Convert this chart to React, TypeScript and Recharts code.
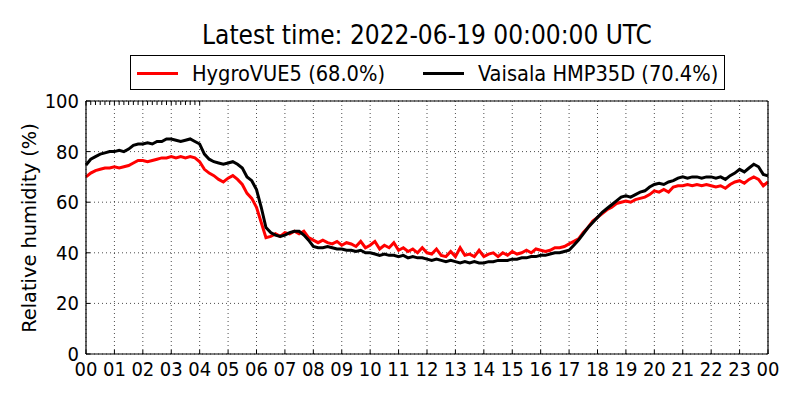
import { CartesianGrid, Line, LineChart, XAxis, YAxis } from "recharts";

// 10-minute readings, 00:00 -> 24:00 (145 points)
const hygroVue = [
  70, 71.5, 72.5, 73, 73.5, 73.5,
  74, 73.5, 74, 74.5, 75.5, 76.5,
  76.5, 76, 76.5, 77, 77.5, 77.5,
  78, 77.5, 78, 77.5, 78, 77.5,
  76, 73, 71.5, 70.5, 69, 68,
  69.5, 70.5, 69, 67, 63.5, 61.5,
  58, 52, 46, 46.5, 47.5, 46.5,
  48, 47.5, 48.5, 47.5, 48.5, 46,
  45, 44, 45, 44, 43.5, 44.5,
  43, 44, 43.5, 42.5, 44.5, 42,
  43, 44.5, 41.5, 43, 42, 44,
  41, 42, 40.5, 41.5, 40, 42,
  40, 39.5, 41.5, 39, 38.5, 40.5,
  38.5, 42, 39, 39.5, 38.5, 41,
  38.5, 39.5, 40, 38.5, 40, 39,
  40.5, 39.5, 40, 41, 40, 41.5,
  41, 40.5, 41, 42, 42, 42.5,
  43.5, 44.5, 45.5, 48, 50, 52.5,
  54, 55.5, 57, 58, 59.5, 60,
  60.5, 60, 61, 61.5, 62, 63,
  64.5, 64, 65, 64, 66, 66.5,
  66.5, 67, 66.5, 67, 66.5, 67,
  66.5, 66, 66.5, 65.5, 67, 68,
  68.5, 67.5, 69, 70, 69, 66.5,
  68,
];

const vaisala = [
  74.7, 77, 78, 79, 79.5, 80,
  80, 80.5, 80, 81, 82.5, 83,
  83, 83.5, 83, 84, 84, 85,
  85, 84.5, 84, 84.5, 85, 84,
  83, 79, 77, 76, 75.5, 75,
  75.5, 76, 75, 73.5, 70, 68.5,
  65, 58, 50, 48, 47, 46.5,
  47, 48, 48.5, 48.5, 47, 45,
  42.5, 42, 42, 42.5, 42, 41.5,
  41.5, 41, 41, 40.5, 41, 40,
  40, 39.5, 39, 39.5, 39, 39,
  38.5, 39, 38, 38.5, 38, 38,
  37.5, 37, 37.5, 37, 36.5, 37,
  36.5, 36, 36.5, 36, 36.5, 36,
  36, 36.5, 36.5, 37, 37, 37,
  37.5, 37.5, 38, 38, 38.5, 38.5,
  39, 39, 39.5, 40, 40, 40.5,
  41, 43, 45, 47.5, 50, 52,
  54, 56, 57.5, 59, 60.5, 62,
  62.5, 62, 63, 64, 64.5, 66,
  67, 67.5, 67, 68, 68.5, 69.5,
  70, 69.5, 70, 70, 69.5, 70,
  70, 69.5, 70, 69, 70.5, 71.5,
  73, 72, 73.5, 75, 74, 71,
  70.4,
];

const hourTicks = [0, 1, 2, 3, 4, 5, 6, 7, 8, 9, 10, 11, 12, 13, 14, 15, 16, 17, 18, 19, 20, 21, 22, 23, 24];
const rhTicks = [0, 20, 40, 60, 80, 100];
const hourLabels = ["00", "01", "02", "03", "04", "05", "06", "07", "08", "09", "10", "11", "12", "13", "14", "15", "16", "17", "18", "19", "20", "21", "22", "23", "00"];

const title = "Latest time: 2022-06-19 00:00:00 UTC";
const hygroName = "HygroVUE5 (68.0%)";
const vaisalaName = "Vaisala HMP35D (70.4%)";

const data = hygroVue.map((h, i) => ({ t: i / 6, hygro: h, vaisala: vaisala[i] }));

const FONT = "'DejaVu Sans Condensed', 'DejaVu Sans', sans-serif";
const TICK_LEN = 4;
const X_MARGIN = 22;
const Y_MARGIN = 7;

function BottomTick({ x, y, payload }: any) {
  const axisY = y - X_MARGIN;
  return (
    <g>
      <line x1={x} x2={x} y1={axisY} y2={axisY - TICK_LEN} stroke="#000" />
      <text x={x} y={y} textAnchor="middle" fontFamily={FONT} fontSize={20} fill="#000">
        {hourLabels[payload.index ?? hourTicks.indexOf(payload.value)]}
      </text>
    </g>
  );
}

function TopTick({ x, y }: any) {
  return <line x1={x} x2={x} y1={y} y2={y + TICK_LEN} stroke="#000" />;
}

function LeftTick({ x, y, payload }: any) {
  const axisX = x + Y_MARGIN;
  return (
    <g>
      <line x1={axisX} x2={axisX + TICK_LEN} y1={y} y2={y} stroke="#000" />
      <text x={x} y={y + 7} textAnchor="end" fontFamily={FONT} fontSize={20} fill="#000">
        {payload.value}
      </text>
    </g>
  );
}

function RightTick({ x, y }: any) {
  return <line x1={x} x2={x - TICK_LEN} y1={y} y2={y} stroke="#000" />;
}

function LegendBox() {
  const item = (color: string, label: string, left: number) => (
    <div style={{ position: "absolute", left, top: 0, height: 34, display: "flex", alignItems: "center" }}>
      <div style={{ width: 41, height: 3, background: color, marginRight: 14 }} />
      <span style={{ fontFamily: FONT, fontSize: 21.6, whiteSpace: "nowrap" }}>{label}</span>
    </div>
  );
  return (
    <div
      style={{
        position: "absolute",
        left: 130,
        top: 55,
        width: 593,
        height: 33,
        border: "1px solid #000",
        background: "#fff",
      }}
    >
      {item("#ff0000", hygroName, 6)}
      {item("#000000", vaisalaName, 292)}
    </div>
  );
}

export default function App() {
  return (
    <div style={{ position: "absolute", left: 0, top: 0, width: 800, height: 400, background: "#fff" }}>
      <div
        style={{
          position: "absolute",
          left: 86,
          width: 682,
          top: 20,
          textAlign: "center",
          fontFamily: FONT,
          fontSize: 26,
          lineHeight: "30px",
          whiteSpace: "nowrap",
        }}
      >
        {title}
      </div>
      <LegendBox />
      <div
        style={{
          position: "absolute",
          left: 29,
          top: 228,
          transform: "translate(-50%, -50%) rotate(-90deg)",
          fontFamily: "'DejaVu Sans', sans-serif",
          fontSize: 19.4,
          whiteSpace: "nowrap",
        }}
      >
        Relative humidity (%)
      </div>
      <LineChart
        width={800}
        height={400}
        data={data}
        margin={{ top: 100, right: 31, bottom: 16, left: 26 }}
        style={{ position: "absolute", left: 0, top: 0 }}
      >
        <CartesianGrid stroke="#000" strokeWidth={0.7} strokeDasharray="1 3" />
        <XAxis
          dataKey="t"
          type="number"
          domain={[0, 24]}
          ticks={hourTicks}
          interval={0}
          height={30}
          tickSize={0}
          tickMargin={X_MARGIN}
          tick={<BottomTick />}
          axisLine={{ stroke: "#000", strokeWidth: 1.2 }}
          tickLine={false}
        />
        <XAxis
          xAxisId="top"
          orientation="top"
          type="number"
          domain={[0, 24]}
          ticks={hourTicks}
          interval={0}
          height={1}
          tickSize={0}
          tickMargin={0}
          tick={<TopTick />}
          axisLine={{ stroke: "#000", strokeWidth: 1.2 }}
          tickLine={false}
        />
        <YAxis
          type="number"
          domain={[0, 100]}
          ticks={rhTicks}
          interval={0}
          width={60}
          tickSize={0}
          tickMargin={Y_MARGIN}
          tick={<LeftTick />}
          axisLine={{ stroke: "#000", strokeWidth: 1.2 }}
          tickLine={false}
        />
        <YAxis
          yAxisId="right"
          orientation="right"
          type="number"
          domain={[0, 100]}
          ticks={rhTicks}
          interval={0}
          width={1}
          tickSize={0}
          tickMargin={0}
          tick={<RightTick />}
          axisLine={{ stroke: "#000", strokeWidth: 1.2 }}
          tickLine={false}
        />
        <Line
          type="linear"
          dataKey="hygro"
          stroke="#ff0000"
          strokeWidth={3}
          dot={false}
          isAnimationActive={false}
        />
        <Line
          type="linear"
          dataKey="vaisala"
          stroke="#000000"
          strokeWidth={3}
          dot={false}
          isAnimationActive={false}
        />
      </LineChart>
    </div>
  );
}
